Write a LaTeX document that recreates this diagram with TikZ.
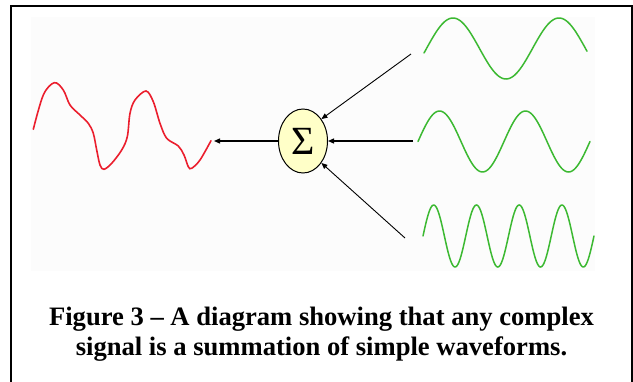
\documentclass[tikz,border=0pt]{standalone}
\usepackage{fontspec}
\setmainfont{Liberation Serif}
\usetikzlibrary{shapes.geometric,arrows.meta}
\definecolor{wavegreen}{RGB}{60,185,50}
\definecolor{wavered}{RGB}{235,30,45}
\definecolor{sumfill}{RGB}{255,255,200}

\begin{document}
\begin{tikzpicture}[x=1pt,y=-1pt,
  wave/.style={wavegreen,line width=1.5pt,line cap=round},
  arr/.style={-{Triangle[length=6pt,width=5pt]},line width=0.9pt},
  sumnode/.style={ellipse,draw,line width=1pt,fill=sumfill,minimum width=49pt,minimum height=64pt,inner sep=0pt}]
\useasboundingbox (0,0) rectangle (633,381);
\fill[black!1] (31,17) rectangle (595,271);
\draw[line width=2pt] (11,395) -- (11,6) -- (632,6) -- (632,395);
% the sum and its output
\draw[wavered,line width=1.6pt,line cap=round] plot[smooth,tension=0.55] coordinates {
  (33.3,129.3) (43.3,95) (54.3,82.7) (63.3,90) (70,105) (80,115) (88.3,123.3)
  (93.3,133.3) (96.7,150) (100,165) (104,169.3) (111.7,163.3) (121.7,150)
  (127.3,136.7) (130,113.3) (135,100) (146,91) (153.3,101.7) (160,123.3)
  (166.7,138.3) (178.3,146) (184,155) (188.3,166.7) (191.7,168.3) (200,160) (211,140.7)};
\node[sumnode] (sum) at (303,141) {\fontsize{40}{40}\selectfont Σ};
\coordinate (out) at (214,141);
\draw[arr,line width=1.3pt] (sum) -- (out);
% the simple waves
\draw[wave,domain=424:587,samples=120] plot (\x,{48.5-30.5*cos((\x-453)/106*360)});
\draw[wave,domain=418:590,samples=120] plot (\x,{141.5-30.5*sin((\x-418)/86*360)});
\draw[wave,domain=423:594,samples=200] plot (\x,{236-31*sin((\x-423)/42.75*360)});
\coordinate (in1) at (411,54);
\coordinate (in2) at (413,141);
\coordinate (in3) at (405,238);
\draw[arr] (in1) -- (sum.50);
\draw[arr,line width=1.3pt] (in2) -- (sum);
\draw[arr] (in3) -- (sum.-50);
\node[font=\bfseries\fontsize{26.6}{30}\selectfont,align=center] (caption) at (321.5,334)
  {Figure 3 – A diagram showing that any complex\\signal is a summation of simple waveforms.};
\end{tikzpicture}
\end{document}
